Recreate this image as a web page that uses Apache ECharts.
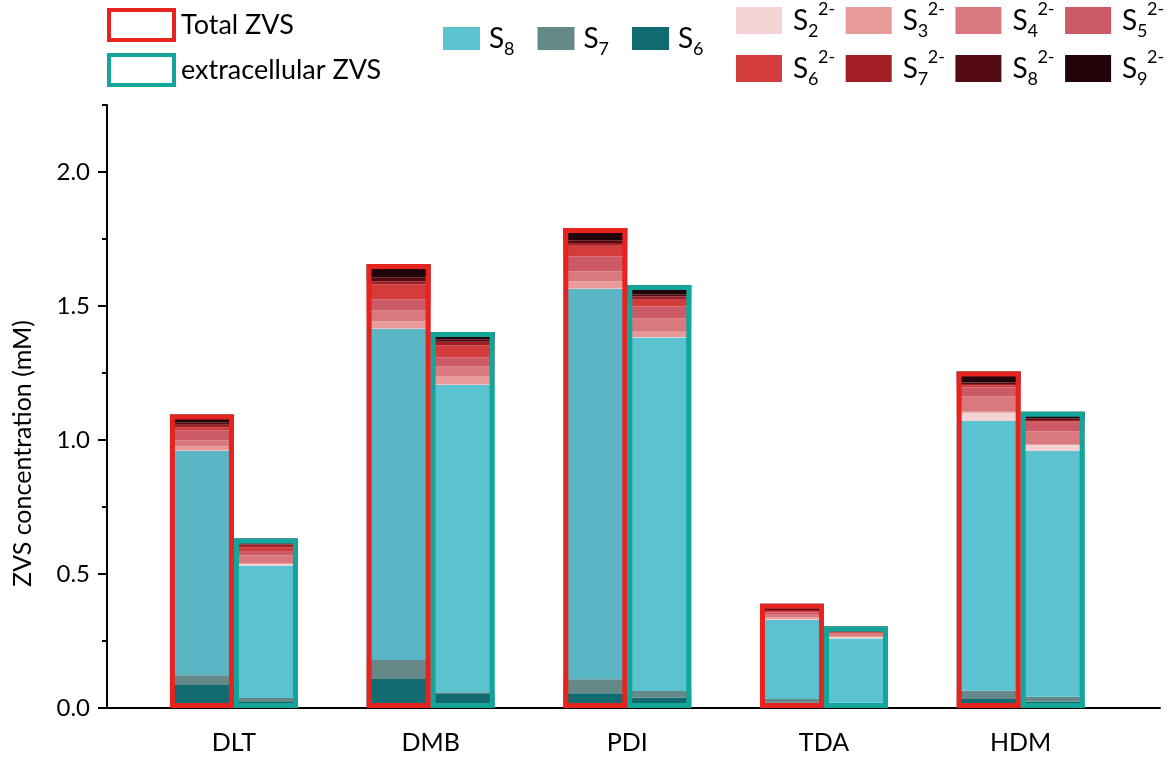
<!DOCTYPE html>
<html>
<head>
<meta charset="utf-8">
<script src="https://cdn.jsdelivr.net/npm/echarts@6/dist/echarts.min.js"></script>
<style>
  html, body { margin: 0; padding: 0; background: #ffffff; }
  #chart { width: 1167px; height: 761px; }
</style>
</head>
<body>
<div id="chart"></div>
<script>
// ZVS species per sample, in mM; order of every array follows `categories`
const categories = ['DLT', 'DMB', 'PDI', 'TDA', 'HDM'];
const yTickValues = [0, 0.5, 1.0, 1.5, 2.0];

// total ZVS (cells + medium)
const totalS6   = [0.086, 0.108, 0.055, 0.020, 0.034];
const totalS7   = [0.036, 0.071, 0.052, 0.014, 0.030];
const totalS8   = [0.837, 1.235, 1.456, 0.294, 1.007];
const totalS2m  = [0.002, 0.002, 0.002, 0.004, 0.031];
const totalS3m  = [0.016, 0.027, 0.027, 0.006, 0.003];
const totalS4m  = [0.021, 0.041, 0.037, 0.010, 0.057];
const totalS5m  = [0.038, 0.040, 0.056, 0.008, 0.034];
const totalS6m  = [0.012, 0.056, 0.040, 0.006, 0.007];
const totalS7m  = [0.009, 0.012, 0.010, 0.004, 0.006];
const totalS8m  = [0.009, 0.015, 0.010, 0.004, 0.006];
const totalS9m  = [0.029, 0.050, 0.046, 0.019, 0.041];

// extracellular ZVS
const extS6   = [0.022, 0.055, 0.038, 0.008, 0.023];
const extS7   = [0.015, 0.004, 0.025, 0.012, 0.019];
const extS8   = [0.494, 1.146, 1.319, 0.239, 0.917];
const extS2m  = [0.005, 0.002, 0.002, 0.006, 0.022];
const extS3m  = [0.003, 0.030, 0.020, 0.004, 0.002];
const extS4m  = [0.030, 0.038, 0.050, 0.005, 0.050];
const extS5m  = [0.017, 0.034, 0.044, 0.004, 0.031];
const extS6m  = [0.013, 0.045, 0.025, 0.005, 0.005];
const extS7m  = [0.011, 0.013, 0.012, 0.003, 0.006];
const extS8m  = [0.004, 0.009, 0.009, 0.004, 0.005];
const extS9m  = [0.018, 0.027, 0.034, 0.014, 0.025];

// samples whose total S8 segment is drawn in the deeper cyan shade
const deepS8Samples = ['DLT', 'DMB', 'PDI'];

const FONT = 'Lato, "Open Sans", sans-serif';
const RED = '#e6231f';
const TEAL = '#12a69b';

// stack order, bottom to top
const layers = [
  { name: 'S6',    color: '#126a71', total: totalS6,  ext: extS6 },
  { name: 'S7',    color: '#658889', total: totalS7,  ext: extS7 },
  { name: 'S8',    color: '#5bc2d0', total: totalS8,  ext: extS8 },
  { name: 'S2^2-', color: '#f3d3d3', total: totalS2m, ext: extS2m },
  { name: 'S3^2-', color: '#e89a9b', total: totalS3m, ext: extS3m },
  { name: 'S4^2-', color: '#d9797d', total: totalS4m, ext: extS4m },
  { name: 'S5^2-', color: '#cc5966', total: totalS5m, ext: extS5m },
  { name: 'S6^2-', color: '#d23c3b', total: totalS6m, ext: extS6m },
  { name: 'S7^2-', color: '#a11e25', total: totalS7m, ext: extS7m },
  { name: 'S8^2-', color: '#550b12', total: totalS8m, ext: extS8m },
  { name: 'S9^2-', color: '#23030a', total: totalS9m, ext: extS9m }
];

const sumOf = key => categories.map((_, i) =>
  +layers.reduce((acc, l) => acc + l[key][i], 0).toFixed(3));
const totalZVS = sumOf('total');
const extZVS = sumOf('ext');

const BAR_W = 64;

const fillSeries = [];
['total', 'ext'].forEach(stack => {
  layers.forEach(l => {
    fillSeries.push({
      type: 'bar',
      name: l.name,
      stack: stack,
      xAxisIndex: 0,
      yAxisIndex: 0,
      barWidth: BAR_W,
      barGap: '0%',
      z: 2,
      itemStyle: { color: l.color },
      emphasis: { disabled: true },
      data: l[stack].map((v, i) =>
        (stack === 'total' && l.name === 'S8' && deepS8Samples.includes(categories[i]))
          ? { value: v, itemStyle: { color: '#5ab5c5' } }
          : v)
    });
  });
});

const outlineSeries = [
  {
    type: 'bar', name: 'Total ZVS', xAxisIndex: 1, yAxisIndex: 0,
    barWidth: BAR_W, barGap: '0%', z: 6,
    itemStyle: { color: 'rgba(0,0,0,0)', borderColor: RED, borderWidth: 5 },
    emphasis: { disabled: true },
    data: totalZVS
  },
  {
    type: 'bar', name: 'extracellular ZVS', xAxisIndex: 1, yAxisIndex: 0,
    barWidth: BAR_W, barGap: '0%', z: 5,
    itemStyle: { color: 'rgba(0,0,0,0)', borderColor: TEAL, borderWidth: 5 },
    emphasis: { disabled: true },
    data: extZVS
  }
];

// "S8" -> S with subscript 8, "S2^2-" -> S with subscript 2 and superscript 2-
function speciesLabel(name) {
  const m = name.match(/^S(\d)(?:\^(.+))?$/);
  if (!m) return name;
  return m[2] ? '{s|S}{sub|' + m[1] + '}{sup|' + m[2] + '}' : '{s|S}{sub|' + m[1] + '}';
}

const speciesRich = {
  s:   { fontSize: 28, lineHeight: 40, width: 15, padding: [0, 0, 0, 6], color: '#000', fontFamily: FONT },
  sub: { fontSize: 18, lineHeight: 18, verticalAlign: 'bottom', color: '#000', fontFamily: FONT },
  sup: { fontSize: 18, lineHeight: 28, verticalAlign: 'top', color: '#000', fontFamily: FONT }
};

const ionNames = ['S2^2-', 'S3^2-', 'S4^2-', 'S5^2-', 'S6^2-', 'S7^2-', 'S8^2-', 'S9^2-'];

const option = {
  animation: false,
  backgroundColor: '#ffffff',
  textStyle: { fontFamily: FONT, color: '#000' },
  grid: [
    { left: 135.6, right: 48, top: 105, bottom: 53 },
    { left: 107, right: 7, top: 105, bottom: 53 }
  ],
  legend: [
    {
      orient: 'vertical', left: 107, top: 8, padding: 0,
      itemWidth: 65, itemHeight: 30, itemGap: 11, icon: 'rect',
      selectedMode: false,
      data: [
        { name: 'Total ZVS', itemStyle: { color: '#ffffff', borderColor: RED, borderWidth: 4 } },
        { name: 'extracellular ZVS', itemStyle: { color: '#ffffff', borderColor: TEAL, borderWidth: 4 } }
      ],
      formatter: n => '{t|' + n + '}',
      textStyle: { rich: { t: { fontSize: 27, lineHeight: 30, padding: [0, 0, 0, 2], color: '#000', fontFamily: FONT } } }
    },
    {
      orient: 'horizontal', left: 443, top: 24.5, padding: 0,
      itemWidth: 37, itemHeight: 23, itemGap: 10, icon: 'rect',
      selectedMode: false,
      data: ['S8', 'S7', 'S6'],
      formatter: n => speciesLabel(n),
      textStyle: {
        rich: Object.assign({}, speciesRich, {
          s: Object.assign({}, speciesRich.s, { padding: [0, 0, 0, 4] }),
          sub: Object.assign({}, speciesRich.sub, { width: 23.5 })
        })
      }
    },
    {
      orient: 'horizontal', left: 736, top: 0.5, width: 440, padding: 0,
      itemWidth: 46, itemHeight: 27, itemGap: 8, icon: 'rect',
      selectedMode: false,
      data: ionNames,
      formatter: n => speciesLabel(n),
      textStyle: {
        rich: Object.assign({}, speciesRich, {
          sub: Object.assign({}, speciesRich.sub, { width: 10 }),
          sup: Object.assign({}, speciesRich.sup, { width: 19.7 })
        })
      }
    }
  ],
  xAxis: [
    {
      type: 'category', gridIndex: 0, data: categories,
      axisLine: { show: false },
      axisTick: { show: false },
      axisLabel: { fontSize: 25, color: '#000', margin: 22, fontFamily: FONT },
      splitLine: { show: false }
    },
    {
      type: 'category', gridIndex: 0, data: categories, show: false
    },
    {
      // baseline running the full width of the plot
      type: 'value', gridIndex: 1, min: 0, max: 1,
      axisLine: { show: true, lineStyle: { color: '#000', width: 2 } },
      axisTick: { show: false }, axisLabel: { show: false }, splitLine: { show: false }
    }
  ],
  yAxis: [
    {
      type: 'value', gridIndex: 0, min: 0, max: 2.25, interval: 0.25,
      position: 'left', offset: 28.6,
      name: 'ZVS concentration (mM)', nameLocation: 'middle', nameGap: 72,
      // right padding (upward along the rotated text) moves the title toward the baseline
      nameTextStyle: { fontSize: 25, color: '#000', fontFamily: FONT, padding: [0, 94, 0, 0] },
      axisLine: { show: true, lineStyle: { color: '#000', width: 2 } },
      axisTick: { show: true, inside: false, length: 5, lineStyle: { color: '#000', width: 2 } },
      axisLabel: {
        fontSize: 24, color: '#000', margin: 17, fontFamily: FONT,
        customValues: yTickValues,
        formatter: v => v.toFixed(1)
      },
      splitLine: { show: false }
    },
    {
      // longer ticks at the labelled values
      type: 'value', gridIndex: 0, min: 0, max: 2.25, interval: 0.25,
      position: 'left', offset: 28.6,
      axisLine: { show: false },
      axisTick: { show: true, inside: false, length: 9, customValues: yTickValues, lineStyle: { color: '#000', width: 2 } },
      axisLabel: { show: false },
      splitLine: { show: false }
    },
    { type: 'value', gridIndex: 1, show: false, min: 0, max: 1 }
  ],
  series: fillSeries.concat(outlineSeries)
};

const chart = echarts.init(document.getElementById('chart'), null, { renderer: 'canvas' });
chart.setOption(option);
</script>
</body>
</html>
